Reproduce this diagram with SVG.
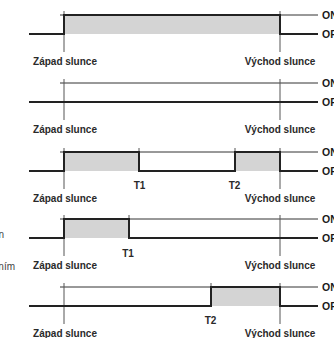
<svg xmlns="http://www.w3.org/2000/svg" width="334" height="338" viewBox="0 0 334 338">
<style>
.fill{fill:#d4d4d4;stroke:none}
.on{stroke:#333;stroke-width:1;fill:none}
.mk{stroke:#555;stroke-width:1;fill:none}
.sig{stroke:#222;stroke-width:2;fill:none;stroke-linejoin:miter}
.lbl{font-family:"Liberation Sans",Arial,sans-serif;font-weight:bold;font-size:10px;fill:#2a2a2a;text-anchor:middle}
.st{font-family:"Liberation Sans",Arial,sans-serif;font-weight:bold;font-size:10.5px;fill:#1a1a1a}
.frag{font-family:"Liberation Sans",Arial,sans-serif;font-size:10px;fill:#444;text-anchor:end}
</style>
<rect width="334" height="338" fill="#fff"/>
<g id="side-text">
<text class="frag" x="4" y="238">n</text>
<text class="frag" x="15" y="270">ním</text>
</g>
<g id="panel1">
<rect class="fill" x="64" y="15" width="216" height="19"/>
<path class="on" d="M60,15H318"/>
<path class="mk" d="M64,11V52M280,11V52"/>
<path class="sig" d="M29,34H64V15H280V34H318"/>
<text class="lbl" x="65" y="64.5">Západ slunce</text>
<text class="lbl" x="280" y="64.5">Východ slunce</text>
<text class="st" x="322" y="18.7">ON</text>
<text class="st" x="322" y="37.7">OFF</text>
</g>
<g id="panel2">
<path class="on" d="M60,83H318"/>
<path class="mk" d="M64,79V120M280,79V120"/>
<path class="sig" d="M29,102H318"/>
<text class="lbl" x="65" y="132.5">Západ slunce</text>
<text class="lbl" x="280" y="132.5">Východ slunce</text>
<text class="st" x="322" y="86.7">ON</text>
<text class="st" x="322" y="105.7">OFF</text>
</g>
<g id="panel3">
<rect class="fill" x="64" y="152" width="75" height="19"/>
<rect class="fill" x="235" y="152" width="45" height="19"/>
<path class="on" d="M60,152H318"/>
<path class="mk" d="M64,148V189M280,148V189M139,148V152M235,148V152"/>
<path class="sig" d="M29,171H64V152H139V171H235V152H280V171H318"/>
<text class="lbl" x="139.5" y="189">T1</text>
<text class="lbl" x="234.5" y="189">T2</text>
<text class="lbl" x="65" y="201.5">Západ slunce</text>
<text class="lbl" x="280" y="201.5">Východ slunce</text>
<text class="st" x="322" y="155.7">ON</text>
<text class="st" x="322" y="174.7">OFF</text>
</g>
<g id="panel4">
<rect class="fill" x="64" y="219" width="65" height="19"/>
<path class="on" d="M60,219H318"/>
<path class="mk" d="M64,215V256M280,215V256M129,215V219"/>
<path class="sig" d="M29,238H64V219H129V238H318"/>
<text class="lbl" x="128" y="257">T1</text>
<text class="lbl" x="65" y="268.5">Západ slunce</text>
<text class="lbl" x="280" y="268.5">Východ slunce</text>
<text class="st" x="322" y="222.7">ON</text>
<text class="st" x="322" y="241.7">OFF</text>
</g>
<g id="panel5">
<rect class="fill" x="211" y="287" width="69" height="19"/>
<path class="on" d="M60,287H318"/>
<path class="mk" d="M64,283V324M280,283V324M211,283V287"/>
<path class="sig" d="M29,306H211V287H280V306H318"/>
<text class="lbl" x="210.5" y="324">T2</text>
<text class="lbl" x="65" y="336.5">Západ slunce</text>
<text class="lbl" x="280" y="336.5">Východ slunce</text>
<text class="st" x="322" y="290.7">ON</text>
<text class="st" x="322" y="309.7">OFF</text>
</g>
</svg>
